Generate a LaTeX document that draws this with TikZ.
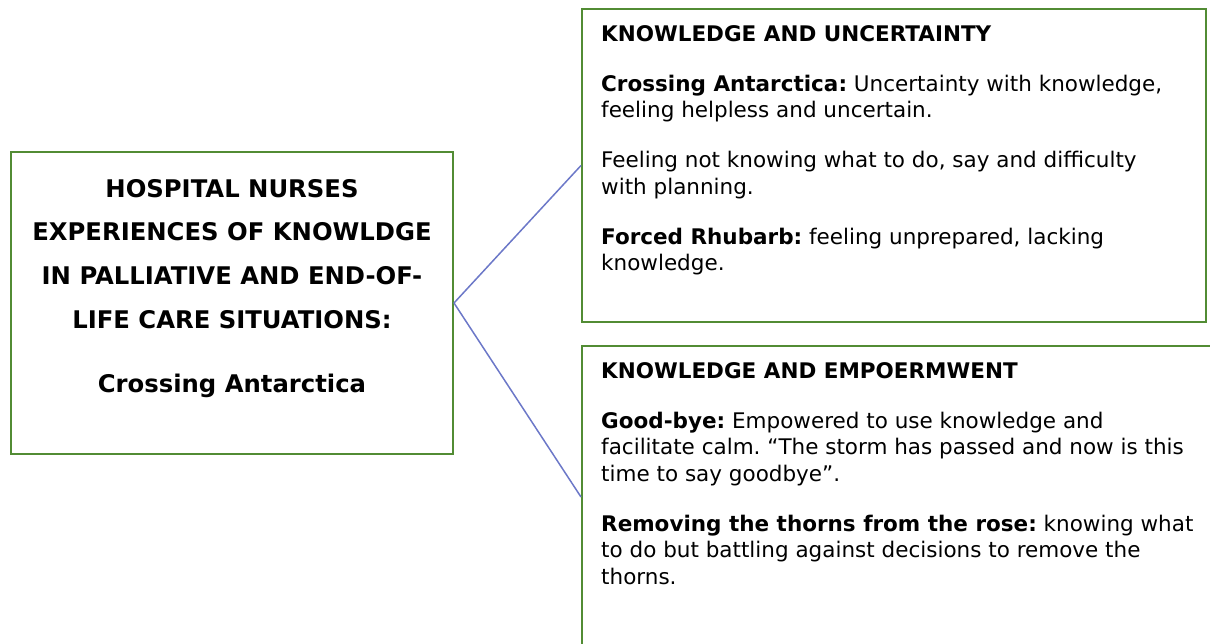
\documentclass[tikz,border=0pt]{standalone}
\usepackage{fontspec}
\setmainfont{DejaVu Sans}
\usetikzlibrary{positioning}
\definecolor{framegreen}{RGB}{82,140,52}
\definecolor{linkblue}{RGB}{108,120,200}

\begin{document}
\begin{tikzpicture}[x=1pt,y=-1pt,
  frame/.style={draw=framegreen, line width=2pt, inner sep=0pt, anchor=north west},
  link/.style={draw=linkblue, line width=1.5pt},
  heading/.style={font=\bfseries\fontsize{24.3}{43.7}\selectfont, align=center, inner sep=0pt},
  theme/.style={font=\frenchspacing\fontsize{21.5}{26.5}\selectfont, align=left, inner sep=0pt}]
\useasboundingbox (0,0) rectangle (1210,644);

% the three boxes
\node[frame, minimum width=442pt, minimum height=302pt] (main) at (10,151) {};
\node[frame, minimum width=624pt, minimum height=313pt] (uncert) at (581,8) {};
\node[frame, minimum width=632pt, minimum height=302pt] (empow) at (581,345) {};

\draw[link] (main.east) -- (uncert.west);
\draw[link] (main.east) -- (empow.west);

\node[heading, below=28pt of main.north] (maintext)
  {HOSPITAL NURSES\\EXPERIENCES OF KNOWLDGE\\IN PALLIATIVE AND END-OF-\\LIFE CARE SITUATIONS:\\[20pt]Crossing Antarctica};

\node[theme, anchor=north west, below right=17pt and 20pt of uncert.north west] (uncerttext)
  {\textbf{KNOWLEDGE AND UNCERTAINTY}\\[23.5pt]
   \textbf{Crossing Antarctica:} Uncertainty with knowledge,\\
   feeling helpless and uncertain.\\[23.5pt]
   Feeling not knowing what to do, say and difficulty\\
   with planning.\\[23.5pt]
   \textbf{Forced Rhubarb:} feeling unprepared, lacking\\
   knowledge.};

\node[theme, anchor=north west, below right=17pt and 20pt of empow.north west] (empowtext)
  {\textbf{KNOWLEDGE AND EMPOERMWENT}\\[23.5pt]
   \textbf{Good-bye:} Empowered to use knowledge and\\
   facilitate calm. “The storm has passed and now is this\\
   time to say goodbye”.\\[23.5pt]
   \textbf{Removing the thorns from the rose:} knowing what\\
   to do but battling against decisions to remove the\\
   thorns.};
\end{tikzpicture}
\end{document}
